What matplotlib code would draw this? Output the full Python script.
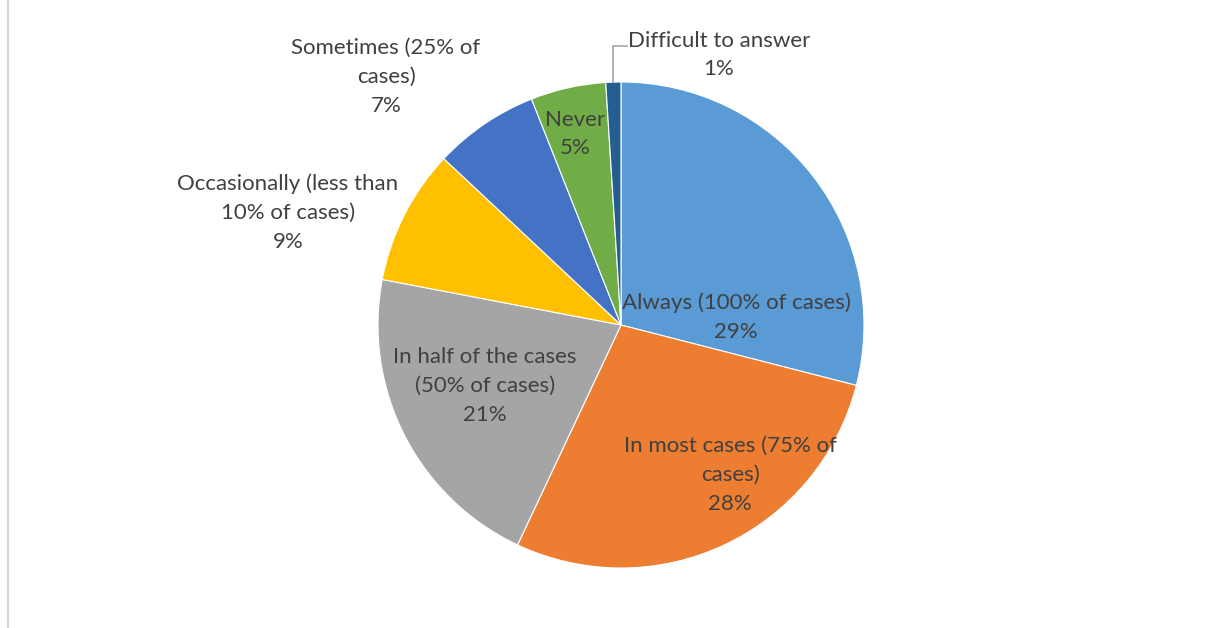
import matplotlib.pyplot as plt
from matplotlib.patches import Rectangle
import numpy as np

# Data
categories = ['Always (100% of cases)', 'In most cases (75% of\ncases)', 'In half of the cases\n(50% of cases)',
              'Occasionally (less than\n10% of cases)', 'Sometimes (25% of\ncases)', 'Never', 'Difficult to answer']
shares = [29, 28, 21, 9, 7, 5, 1]
colors = ['#5B9BD5', '#ED7D31', '#A5A5A5', '#FFC000', '#4472C4', '#70AD47', '#255E91']

# label centres in pixel coords (bottom-up)
label_pos = [(736, 311), (730, 153), (485, 242), (288, 415), (386, 551), (575, 494), (719, 573)]

plt.rcParams['font.family'] = ['Lato', 'DejaVu Sans']

fig = plt.figure(figsize=(12.23, 6.28), dpi=100)
ax = fig.add_axes([0, 0, 1, 1])

# chart border (only top and left visible)
ax.add_patch(Rectangle((7.5, -20), 1300, 634.5 + 20, fill=False, edgecolor='#D9D9D9', linewidth=1.5))

# pie, clockwise from 12 o'clock like Excel
wedges, _ = ax.pie(shares, colors=colors, startangle=90, counterclock=False,
                   center=(621, 303), radius=243, frame=True,
                   wedgeprops={'edgecolor': 'white', 'linewidth': 0.8})
ax.set_xlim(0, 1223)
ax.set_ylim(0, 628)
ax.set_aspect('equal')
ax.axis('off')

for cat, val, (x, y) in zip(categories, shares, label_pos):
    ax.text(x, y, '{}\n{}%'.format(cat, val), ha='center', va='center', multialignment='center',
            fontsize=16, color='#404040', linespacing=1.55)

# leader line for the small slice
w = wedges[-1]
mid = np.deg2rad((w.theta1 + w.theta2) / 2)
x0 = w.center[0] + w.r * np.cos(mid)
y0 = w.center[1] + w.r * np.sin(mid)
ax.plot([x0, x0, 627], [y0, 582, 582], color='#A6A6A6', linewidth=1.2)

fig.savefig('out.png', dpi=100)
